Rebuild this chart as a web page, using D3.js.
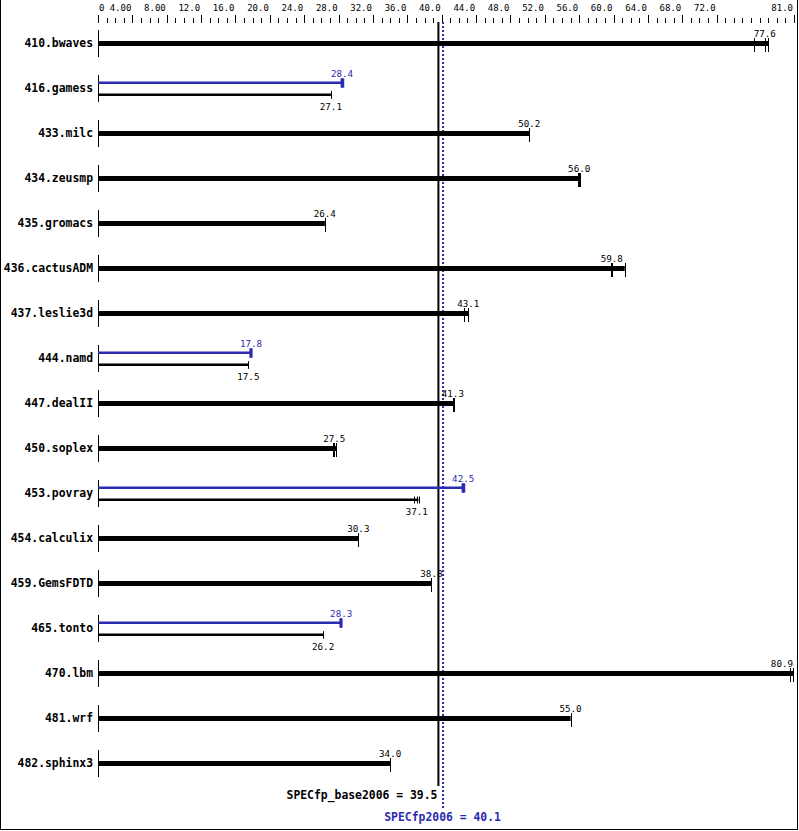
<!DOCTYPE html>
<html><head><meta charset="utf-8">
<script src="https://cdn.jsdelivr.net/npm/d3@7"></script>
<style>html,body{margin:0;padding:0;background:#fff}svg{display:block}</style>
</head><body>
<script>
const benchmarks = ["410.bwaves","416.gamess","433.milc","434.zeusmp","435.gromacs","436.cactusADM","437.leslie3d","444.namd","447.dealII","450.soplex","453.povray","454.calculix","459.GemsFDTD","465.tonto","470.lbm","481.wrf","482.sphinx3"];
const baseValues = [77.6,27.1,50.2,56.0,26.4,59.8,43.1,17.5,41.3,27.5,37.1,30.3,38.8,26.2,80.9,55.0,34.0];
const peakValues = [null,28.4,null,null,null,null,null,17.8,null,null,42.5,null,null,28.3,null,null,null];
const baseRuns = [[76.3,77.6,78.0],[27.1,27.1,27.1],[50.2,50.2,50.2],[55.9,56.0,56.1],[26.4,26.4,26.4],[59.7,59.8,61.3],[42.6,43.1,43.1],[17.5,17.5,17.5],[41.3,41.3,41.4],[27.4,27.5,27.7],[36.8,37.1,37.3],[30.3,30.3,30.3],[38.8,38.8,38.8],[26.2,26.2,26.2],[80.5,80.9,80.9],[55.0,55.0,55.0],[34.0,34.0,34.0]];
const peakRuns = [null,[28.4,28.4,28.5],null,null,null,null,null,[17.8,17.8,17.8],null,null,[42.5,42.5,42.6],null,null,[28.3,28.3,28.3],null,null,null];
const majorTicks = [0,4,8,12,16,20,24,28,32,36,40,44,48,52,56,60,64,68,72,81];
const majorTickLabels = ["0","4.00","8.00","12.0","16.0","20.0","24.0","28.0","32.0","36.0","40.0","44.0","48.0","52.0","56.0","60.0","64.0","68.0","72.0","81.0"];
const minorTicks = d3.range(0,82);
const baseMetric = {label:"SPECfp_base2006", value:39.5};
const peakMetric = {label:"SPECfp2006", value:40.1};

const W = 799, H = 831;
const BLUE = "#2b2bb0";
const MONO = "'DejaVu Sans Mono', monospace";
const svg = d3.select("body").append("svg").attr("width",W).attr("height",H);

const x = d3.scaleLinear().domain([0,81]).range([98,794]);
const y = d3.scalePoint().domain(benchmarks).range([43, 43+45*16]);
const LABEL_MAX_X = 794;

// frame
svg.append("line").attr("x1",0.5).attr("x2",0.5).attr("y1",0).attr("y2",830).attr("stroke","#000");
svg.append("line").attr("x1",797.5).attr("x2",797.5).attr("y1",0).attr("y2",830).attr("stroke","#000");
svg.append("line").attr("x1",0).attr("x2",798).attr("y1",829.5).attr("y2",829.5).attr("stroke","#000");

// top axis
const axisG = svg.append("g");
axisG.selectAll("line.minor").data(minorTicks.filter(t=>!majorTicks.includes(t))).join("line")
  .attr("x1",d=>Math.round(x(d))+0.5).attr("x2",d=>Math.round(x(d))+0.5)
  .attr("y1",18).attr("y2",23).attr("stroke","#000");
axisG.selectAll("line.major").data(majorTicks).join("line")
  .attr("x1",d=>Math.round(x(d))+0.5).attr("x2",d=>Math.round(x(d))+0.5)
  .attr("y1",15).attr("y2",23).attr("stroke","#000");
axisG.selectAll("text").data(majorTicks).join("text")
  .attr("x",(d,i)=> i===0 ? x(d)+1 : x(d)-1)
  .attr("y",11)
  .attr("text-anchor",(d,i)=> i===0 ? "start" : "end")
  .attr("font-family",MONO).attr("font-size","9px").attr("fill","#000")
  .text((d,i)=>majorTickLabels[i]);

// reference lines
svg.append("line").attr("x1",x(baseMetric.value)+1).attr("x2",x(baseMetric.value)+1)
  .attr("y1",22).attr("y2",786).attr("stroke","#000").attr("stroke-width",2);
svg.append("line").attr("x1",x(peakMetric.value)+0.5).attr("x2",x(peakMetric.value)+0.5)
  .attr("y1",22).attr("y2",808).attr("stroke",BLUE).attr("stroke-width",2).attr("stroke-dasharray","2,2");

function valueLabel(g, v, yy, color){
  const t = g.append("text").attr("y",yy)
    .attr("font-family",MONO).attr("font-size","9.2px").attr("fill",color).text(v.toFixed(1));
  const half = t.node().getComputedTextLength()/2;
  const cx = Math.min(x(v), LABEL_MAX_X - 1 - half);
  t.attr("x",cx).attr("text-anchor","middle");
}

const rows = svg.selectAll("g.row").data(benchmarks).join("g").attr("class","row");
rows.each(function(name,i){
  const g = d3.select(this);
  const c = y(name);
  g.append("line").attr("x1",98.5).attr("x2",98.5).attr("y1",c-13).attr("y2",c+14).attr("stroke","#000");
  g.append("text").attr("x",93).attr("y",c+4).attr("text-anchor","end")
    .attr("font-family",MONO).attr("font-weight","bold").attr("font-size","11.4px").attr("fill","#000").text(name);
  const pv = peakValues[i];
  if (pv === null) {
    const runs = baseRuns[i];
    const mx = d3.max(runs);
    g.append("rect").attr("x",x(0)).attr("y",c-2).attr("width",x(mx)-x(0)).attr("height",5).attr("fill","#000");
    g.selectAll("line.run").data(runs).join("line").attr("class","run")
      .attr("x1",d=>Math.round(x(d))+0.5).attr("x2",d=>Math.round(x(d))+0.5)
      .attr("y1",c-5).attr("y2",c+9).attr("stroke","#000");
    valueLabel(g, baseValues[i], c-6, "#000");
  } else {
    const cp = c-5.5, cb = c+6.5;
    const pr = peakRuns[i], br = baseRuns[i];
    g.append("rect").attr("x",x(0)).attr("y",cp-1).attr("width",x(d3.max(pr))-x(0)).attr("height",2.5).attr("fill",BLUE);
    g.selectAll("line.prun").data(pr).join("line").attr("class","prun")
      .attr("x1",d=>Math.round(x(d))).attr("x2",d=>Math.round(x(d)))
      .attr("y1",cp-4).attr("y2",cp+5).attr("stroke",BLUE).attr("stroke-width",2.5);
    valueLabel(g, pv, cp-5.5, BLUE);
    g.append("rect").attr("x",x(0)).attr("y",cb-1).attr("width",x(d3.max(br))-x(0)).attr("height",2.5).attr("fill","#000");
    g.selectAll("line.brun").data(br).join("line").attr("class","brun")
      .attr("x1",d=>Math.round(x(d))+0.5).attr("x2",d=>Math.round(x(d))+0.5)
      .attr("y1",cb-3).attr("y2",cb+4).attr("stroke","#000");
    valueLabel(g, baseValues[i], cb+15.5, "#000");
  }
});

svg.append("text").attr("x",x(baseMetric.value)).attr("y",799).attr("text-anchor","end")
  .attr("font-family",MONO).attr("font-weight","bold").attr("font-size","11.4px").attr("fill","#000")
  .text(baseMetric.label + " = " + baseMetric.value.toFixed(1));
svg.append("text").attr("x",x(peakMetric.value)).attr("y",821).attr("text-anchor","middle")
  .attr("font-family",MONO).attr("font-weight","bold").attr("font-size","11.4px").attr("fill",BLUE)
  .text(peakMetric.label + " = " + peakMetric.value.toFixed(1));
</script>
</body></html>
